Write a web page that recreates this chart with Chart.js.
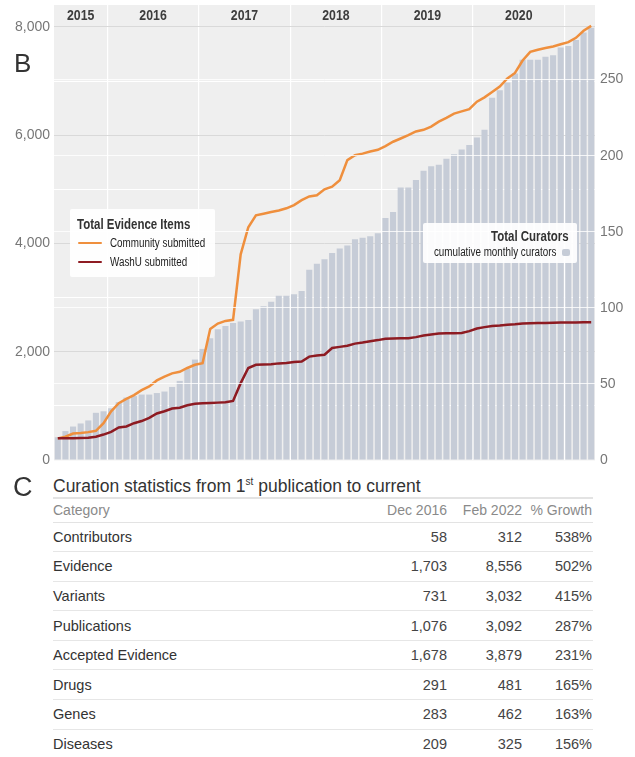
<!DOCTYPE html>
<html><head><meta charset="utf-8">
<script src="https://cdn.jsdelivr.net/npm/chart.js@4.4.1/dist/chart.umd.min.js"></script>
<style>
html,body{margin:0;padding:0;background:#fff;}
body{width:635px;height:757px;position:relative;overflow:hidden;font-family:"Liberation Sans",Arial,Helvetica,sans-serif;color:#333;}
#c{position:absolute;left:0;top:0;}
.t{position:absolute;white-space:nowrap;}
.box{position:absolute;background:rgba(255,255,255,0.92);border-radius:2px;}
.hl{position:absolute;height:1px;background:#e2e2e2;}
</style></head>
<body>
<canvas id="c" width="635" height="470"></canvas>
<div id="overlay"></div>
<script>
// ---- data ----
const months = [
 '2015-06','2015-07','2015-08','2015-09','2015-10','2015-11','2015-12',
 '2016-01','2016-02','2016-03','2016-04','2016-05','2016-06','2016-07','2016-08','2016-09','2016-10','2016-11','2016-12',
 '2017-01','2017-02','2017-03','2017-04','2017-05','2017-06','2017-07','2017-08','2017-09','2017-10','2017-11','2017-12',
 '2018-01','2018-02','2018-03','2018-04','2018-05','2018-06','2018-07','2018-08','2018-09','2018-10','2018-11','2018-12',
 '2019-01','2019-02','2019-03','2019-04','2019-05','2019-06','2019-07','2019-08','2019-09','2019-10','2019-11','2019-12',
 '2020-01','2020-02','2020-03','2020-04','2020-05','2020-06','2020-07','2020-08','2020-09','2020-10','2020-11','2020-12',
 '2021-01','2021-02','2021-03','2021-04'
];
const curators = [
 15,19,22,24,26,31,32,
 34,38,41,42,43,43,44,45,48,52,60,66,
 73,80,86,88,90,91,92,99,101,104,108,108,
 109,111,125,129,132,136,139,141,145,146,147,149,
 159,163,179,179,184,190,193,194,198,201,204,207,
 212,217,238,243,248,254,263,263,263,265,266,271,
 272,276,281,284
];
const community = [
 400,430,490,500,515,540,680,
 900,1050,1130,1200,1290,1360,1470,1540,1600,1630,1700,1760,
 1790,2420,2520,2570,2590,3800,4300,4520,4550,4580,4610,4650,
 4710,4800,4870,4890,5000,5050,5170,5540,5630,5660,5700,5730,
 5800,5880,5940,6000,6070,6100,6160,6250,6320,6400,6440,6480,
 6620,6700,6800,6900,7050,7150,7380,7540,7580,7610,7640,7680,
 7720,7800,7930,8020
];
const washu = [
 400,400,400,405,410,430,470,
 520,600,620,680,720,780,860,900,950,965,1010,1040,
 1050,1055,1060,1065,1090,1420,1700,1760,1765,1770,1785,1790,
 1810,1820,1910,1930,1945,2070,2090,2110,2150,2170,2195,2215,
 2240,2245,2248,2250,2270,2300,2320,2335,2340,2342,2345,2380,
 2430,2455,2475,2485,2500,2508,2520,2525,2530,2533,2536,2538,
 2540,2542,2544,2545
];
const yearLabels = ['2015','2016','2017','2018','2019','2020'];
const leftTicks = [0,2000,4000,6000,8000];
const leftMinorTicks = [1000,3000,5000,7000];
const rightTicks = [0,50,100,150,200,250];

const tableCategories = ['Contributors','Evidence','Variants','Publications','Accepted Evidence','Drugs','Genes','Diseases'];
const dec2016 = [58,1703,731,1076,1678,291,283,209];
const feb2022 = [312,8556,3032,3092,3879,481,462,325];
const growth = [538,502,415,287,231,165,163,156];
const tableHeader = ['Category','Dec 2016','Feb 2022','% Growth'];

// ---- chart ----
const SQUEEZE = 0.82;
Chart.defaults.font.family = '"Liberation Sans",Arial,Helvetica,sans-serif';
Chart.defaults.font.size = 14;
Chart.defaults.color = '#777';

const bgPlugin = {
  id: 'plotBg',
  beforeDraw(chart) {
    const {ctx, chartArea: a} = chart;
    ctx.save();
    ctx.fillStyle = '#efefef';
    ctx.fillRect(a.left, a.top, a.right - a.left, a.bottom - a.top);
    ctx.restore();
  }
};
const yearPlugin = {
  id: 'years',
  afterDraw(chart) {
    const {ctx} = chart;
    const xs = chart.scales.x;
    const step = xs.getPixelForValue(1) - xs.getPixelForValue(0);
    ctx.save();
    ctx.font = 'bold 15px "Liberation Sans",Arial,sans-serif';
    ctx.fillStyle = '#3d3d3d';
    ctx.textAlign = 'center';
    ctx.textBaseline = 'middle';
    yearLabels.forEach(y => {
      const idx = months.map((m, i) => m.startsWith(y) ? i : -1).filter(i => i >= 0);
      const x1 = xs.getPixelForValue(idx[0]) - step / 2;
      const x2 = xs.getPixelForValue(idx[idx.length - 1]) + step / 2;
      ctx.save();
      ctx.translate((x1 + x2) / 2, chart.chartArea.top + 11);
      ctx.scale(SQUEEZE, 1);
      ctx.fillText(y, 0, 0);
      ctx.restore();
    });
    ctx.restore();
  }
};
const noPad = s => { s.paddingTop = 0; s.paddingBottom = 0; };
const setTicks = arr => s => { s.ticks = arr.map(v => ({value: v})); };

new Chart(document.getElementById('c'), {
  type: 'bar',
  data: {
    labels: months,
    datasets: [
      {type: 'line', label: 'WashU submitted', data: washu, yAxisID: 'yL', borderColor: '#8e1b22', borderWidth: 2.5, pointRadius: 0, tension: 0, order: 0},
      {type: 'line', label: 'Community submitted', data: community, yAxisID: 'yL', borderColor: '#ef8f3d', borderWidth: 2.5, pointRadius: 0, tension: 0, order: 1},
      {type: 'bar', label: 'cumulative monthly curators', data: curators, yAxisID: 'yR', backgroundColor: '#c6ccd7', barPercentage: 0.8, categoryPercentage: 1.0, order: 2}
    ]
  },
  options: {
    responsive: false,
    devicePixelRatio: 1,
    animation: false,
    layout: {padding: {top: 5, left: 0, right: 0, bottom: 0}},
    plugins: {legend: {display: false}, tooltip: {enabled: false}},
    scales: {
      x: {
        offset: true,
        grid: {
          offset: true, drawTicks: false, lineWidth: 1.2,
          color: c => (months[c.index] && months[c.index].endsWith('-01')) ? '#ffffff' : 'rgba(0,0,0,0)'
        },
        border: {display: false},
        ticks: {display: false, autoSkip: false},
        afterFit: s => { s.height = 10; s.paddingLeft = 0; s.paddingRight = 0; }
      },
      yL: {
        position: 'left', min: 0, max: 8406,
        afterBuildTicks: setTicks(leftTicks),
        ticks: {padding: 4, autoSkip: false, callback: v => Number(v).toLocaleString('en-US')},
        grid: {drawTicks: false, color: '#d9d9d9'},
        border: {display: false},
        afterFit: s => { s.width = 54; noPad(s); }
      },
      yL2: {
        position: 'left', min: 0, max: 8406,
        afterBuildTicks: setTicks(leftMinorTicks),
        ticks: {display: false},
        grid: {drawTicks: false, color: '#ffffff'},
        border: {display: false},
        afterFit: s => { s.width = 0; noPad(s); }
      },
      yR: {
        position: 'right', min: 0, max: 299,
        afterBuildTicks: setTicks(rightTicks),
        ticks: {padding: 5, autoSkip: false, callback: v => String(v)},
        grid: {drawTicks: false, z: 1, color: 'rgba(255,255,255,0.8)'},
        border: {display: false},
        afterFit: s => { s.width = 40; noPad(s); }
      }
    }
  },
  plugins: [bgPlugin, yearPlugin]
});

// ---- overlays (legends, panel letters, table) ----
const ov = document.getElementById('overlay');
function txt(s, x, cy, size, o = {}) {
  const d = document.createElement('div');
  d.className = 't';
  d.style.top = (cy - size / 2) + 'px';
  d.style.height = size + 'px';
  d.style.lineHeight = size + 'px';
  d.style.fontSize = size + 'px';
  if (o.bold) d.style.fontWeight = 'bold';
  d.style.color = o.color || '#333';
  if (o.right) d.style.right = (635 - x) + 'px'; else d.style.left = x + 'px';
  if (o.narrow) {
    d.style.transform = 'scaleX(' + SQUEEZE + ')';
    d.style.transformOrigin = o.right ? 'right center' : 'left center';
  }
  d.innerHTML = s;
  ov.appendChild(d);
  return d;
}
function rect(x, y, w, h, color, cls) {
  const d = document.createElement('div');
  d.className = cls || 'hl';
  d.style.left = x + 'px'; d.style.top = y + 'px';
  d.style.width = w + 'px'; d.style.height = h + 'px';
  d.style.background = color;
  ov.appendChild(d);
  return d;
}

// panel letters
txt('B', 14, 62.5, 26, {color: '#333'});
txt('C', 13, 487.5, 27, {color: '#333'});

// left legend
rect(70, 209, 145, 68, 'rgba(255,255,255,0.92)', 'box');
txt('Total Evidence Items', 77, 224, 14, {narrow: true, bold: true, color: '#333'});
rect(78, 241.7, 24, 2.6, '#ef8f3d', 'box');
txt('Community submitted', 110, 243, 12, {narrow: true, color: '#222'});
rect(78, 260.7, 24, 2.6, '#8e1b22', 'box');
txt('WashU submitted', 110, 262, 12, {narrow: true, color: '#222'});

// right legend
rect(423, 223, 154, 40, 'rgba(255,255,255,0.92)', 'box');
txt('Total Curators', 569, 235.5, 14, {narrow: true, bold: true, color: '#333', right: true});
txt('cumulative monthly curators', 556, 252, 12, {narrow: true, color: '#222', right: true});
rect(562, 249, 8, 7, '#c6ccd7', 'box');

// table
txt('Curation statistics from 1<sup style="font-size:10px;line-height:0;vertical-align:7px">st</sup> publication to current', 53, 486.7, 17.5, {color: '#333'});
rect(53, 497, 540, 2, '#e3e3e3');
const colRight = [447, 522, 592];
txt(tableHeader[0], 53, 510, 14, {color: '#8a8a8a'});
for (let k = 1; k < 4; k++) txt(tableHeader[k], colRight[k - 1], 510, 14, {color: '#8a8a8a', right: true});
rect(53, 521.5, 540, 1, '#e3e3e3');
const fmt = n => n.toLocaleString('en-US');
tableCategories.forEach((cat, i) => {
  const cy = 537 + i * 29.6;
  txt(cat, 53, cy, 14.5, {color: '#333'});
  txt(fmt(dec2016[i]), colRight[0], cy, 14.5, {color: '#444', right: true});
  txt(fmt(feb2022[i]), colRight[1], cy, 14.5, {color: '#444', right: true});
  txt(growth[i] + '%', colRight[2], cy, 14.5, {color: '#444', right: true});
  rect(53, Math.round(cy + 14), 540, 1, '#e6e6e6');
});
</script>
</body></html>
